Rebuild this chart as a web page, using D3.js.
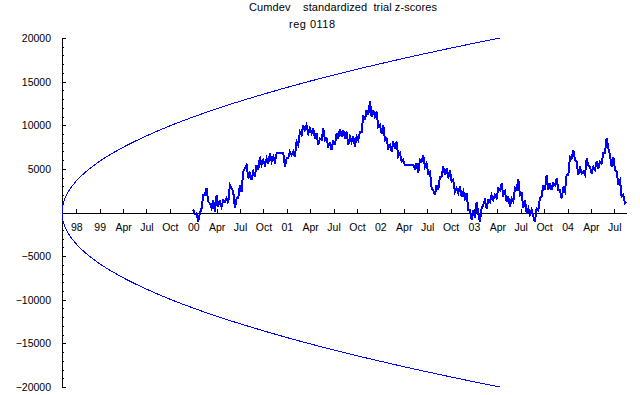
<!DOCTYPE html>
<html>
<head>
<meta charset="utf-8">
<script src="https://cdn.jsdelivr.net/npm/d3@7"></script>
<style>
  body { margin: 0; background: #fff; }
  svg { display: block; font-family: "Liberation Sans", Arial, sans-serif; }
  .axis text { fill: #000; }
  .axis path, .axis line { stroke: #000; shape-rendering: crispEdges; }
</style>
</head>
<body>
<div id="chart"></div>
<script>
const width = 640;
const height = 395;

const titleText = "Cumdev    standardized  trial z-scores";
const subtitleText = "reg 0118";

// x positions are in quarters, tick 0 = "98"
const xTickLabels = ["98", "99", "Apr", "Jul", "Oct", "00", "Apr", "Jul", "Oct", "01", "Apr", "Jul",
  "Oct", "02", "Apr", "Jul", "Oct", "03", "Apr", "Jul", "Oct", "04", "Apr", "Jul"];
const yMajorTicks = [-20000, -15000, -10000, -5000, 0, 5000, 10000, 15000, 20000];

// significance envelope, drawn as +/- value
const envQ = [-0.61, -0.6, -0.58, -0.55, -0.45, -0.3, 0, 0.5, 1, 2, 3, 4, 5, 6, 7, 8, 9, 10, 11, 12, 13, 14, 15, 16, 17, 18.11];
const envVal = [0, 460, 800, 1130, 1850, 2570, 3610, 4870, 5870, 7470, 8780, 9930, 10950, 11890, 12750,
  13560, 14330, 15060, 15750, 16420, 17050, 17670, 18260, 18840, 19400, 20000];

// cumulative deviation, starts at "00" tick
const cumdevStart = 5;
const cumdevStep = 0.07126;
const cumdev = [
  287, -133, -95, -1050, -95, 478, 2006, 2006, 2770, 1242,
  1051, 478, 1433, 96, 2006, 860, 1242, 669, 1433, 1242,
  1624, 1051, 3152, 2770, 2388, 478, 1624, 1624, 3152, 2388,
  4680, 5062, 5444, 3916, 4489, 3725, 4680, 4107, 5444, 4871,
  6399, 5444, 6017, 5444, 6208, 5635, 6781, 5826, 6399, 5826,
  6781, 6781, 6781, 6781, 6781, 5253, 6208, 6208, 6972, 6590,
  6972, 6399, 8118, 7736, 9264, 8882, 10028, 9455, 10028, 9073,
  9646, 9073, 9646,
  8500, 9073, 7736, 8500, 8309, 9646, 8309, 8500, 7545, 7927,
  7163, 8309, 7736, 9073, 8500, 9600, 8691, 9455, 8500, 9264,
  7736, 8691, 8118, 8691, 7545, 8691, 8309, 9264, 9264, 11174,
  10601, 11747, 11174, 12778, 10983, 11747, 10983, 11556, 9837, 10028,
  9073, 10028, 8309, 8500, 7354, 7736, 6972, 8118, 7354, 8118,
  6399, 6781, 5826, 6017, 5444, 5444, 5444, 5444, 5444, 5444,
  5062, 5635, 4489, 6017, 5826, 6590, 5253, 5635, 4489, 4680,
  2770, 2579, 2006, 3152, 2579, 4107, 4107, 5253, 4298, 5062,
  3916, 4871, 3534, 3725, 2388, 2770, 2197, 2961, 1815, 2388,
  1624, 2197, 287,
  287, -859, 287, -668, 1242, -95, -1050, 478, 860, 1433,
  478, 1433, 1242, 2006, 1433, 2006, 1624, 2770, 2579, 3343,
  2006, 2388, 1242, 1815, 669, 1624, 1242, 2770, 2579, 3840,
  2006, 2197, 478, 1433, -95, 478, -286, 287, -477, -1050,
  478, 287, 1624, 1815, 3152, 2579, 4298, 2579, 3343, 2579,
  3343, 3152, 3916, 2579, 2579, 1624, 2770, 2388, 4298, 4298,
  6399, 6208, 7163, 6017, 5826, 4298, 5253, 4489, 4680, 4298,
  6208, 5444, 5253, 4489, 5253, 4871, 5826, 5062, 5826, 5635,
  6781, 6781, 8576, 7354, 6590, 5253, 6399, 4871, 4680, 3343,
  3725, 1815, 2006, 1051, 1242
];

const blue = "#0000ff";

var svg = d3.select("#chart")
  .append("svg")
  .attr("width", width)
  .attr("height", height);

var x = d3.scaleLinear().domain([-0.61, 23.53]).range([62, 626.7]);
var y = d3.scaleLinear().domain([-20000, 20000]).range([387, 38]);

drawTitle();
drawAxes();
drawLines();

function drawTitle() {
  svg.append("text")
    .attr("x", 249)
    .attr("y", 11)
    .attr("font-size", 11)
    .attr("textLength", 188)
    .attr("lengthAdjust", "spacing")
    .style("white-space", "pre")
    .text(titleText);

  svg.append("text")
    .attr("x", 289)
    .attr("y", 28)
    .attr("font-size", 11)
    .attr("textLength", 46)
    .attr("lengthAdjust", "spacing")
    .text(subtitleText);
}

function drawAxes() {
  // minor y ticks every 1000
  svg.append("g")
    .attr("class", "axis")
    .attr("transform", "translate(62,0)")
    .call(d3.axisLeft(y)
      .tickValues(d3.range(-20000, 20001, 1000))
      .tickSize(-2)
      .tickSizeOuter(0)
      .tickFormat(""));

  var yAxis = svg.append("g")
    .attr("class", "axis")
    .attr("transform", "translate(62,0)")
    .call(d3.axisLeft(y)
      .tickValues(yMajorTicks)
      .tickSize(-4)
      .tickSizeOuter(0)
      .tickPadding(11)
      .tickFormat((d) => d === 0 ? "" : d3.format("")(d).replace("-", "\u2212")));
  yAxis.selectAll("text").attr("font-size", 10.5);

  var xAxis = svg.append("g")
    .attr("class", "axis")
    .attr("transform", "translate(0," + y(0) + ")")
    .call(d3.axisBottom(x)
      .tickValues(d3.range(xTickLabels.length))
      .tickSize(-4)
      .tickSizeOuter(0)
      .tickPadding(11)
      .tickFormat((d) => xTickLabels[d]));
  xAxis.selectAll("text").attr("font-size", 10.5);
}

function drawLines() {
  var envLine = d3.line()
    .x((d) => x(d[0]))
    .y((d) => y(d[1]))
    .curve(d3.curveMonotoneX);

  var upper = envQ.map((q, i) => [q, envVal[i]]);
  var lower = envQ.map((q, i) => [q, -envVal[i]]);

  svg.append("g")
    .attr("id", "envelope")
    .selectAll("path")
    .data([upper, lower])
    .enter()
    .append("path")
    .attr("d", envLine)
    .attr("fill", "none")
    .attr("stroke", blue)
    .attr("stroke-width", 1)
    .style("shape-rendering", "crispEdges");

  var cumLine = d3.line()
    .x((d, i) => x(cumdevStart + i * cumdevStep))
    .y((d) => y(d));

  svg.append("path")
    .datum(cumdev)
    .attr("d", cumLine)
    .attr("fill", "none")
    .attr("stroke", blue)
    .attr("stroke-width", 2)
    .style("shape-rendering", "crispEdges");
}
</script>
</body>
</html>
